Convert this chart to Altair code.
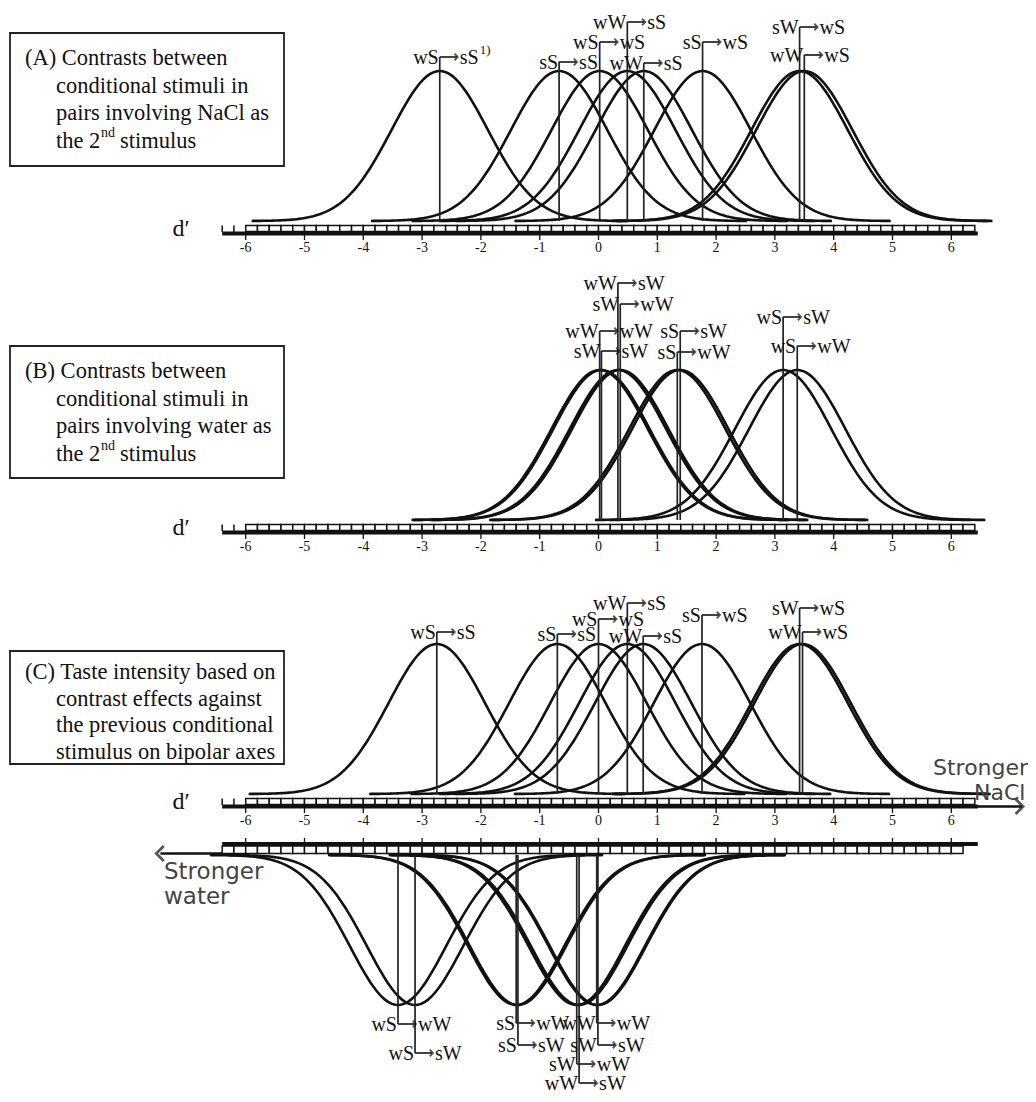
import altair as alt
import numpy as np
import pandas as pd

# ---------------- values (d' means) ----------------
A_PAIRS = ["wS→sS", "sS→sS", "wS→wS", "wW→sS", "wW→sS", "sS→wS", "sW→wS", "wW→wS"]
A_MEANS = [-2.70, -0.67, 0.02, 0.49, 0.77, 1.77, 3.42, 3.50]

B_PAIRS = ["wW→wW", "sW→sW", "wW→sW", "sW→wW", "sS→sW", "sS→wW", "wS→sW", "wS→wW"]
B_MEANS = [0.02, 0.05, 0.33, 0.37, 1.39, 1.34, 3.14, 3.38]

C_UP_PAIRS = ["wS→sS", "sS→sS", "wS→wS", "wW→sS", "wW→sS", "sS→wS", "sW→wS", "wW→wS"]
C_UP_MEANS = [-2.75, -0.70, 0.00, 0.49, 0.76, 1.76, 3.42, 3.47]

C_LOW_PAIRS = ["wS→wW", "wS→sW", "sS→wW", "sS→sW", "sW→wW", "wW→sW", "wW→wW", "sW→sW"]
C_LOW_MEANS = [-3.41, -3.12, -1.40, -1.37, -0.37, -0.33, -0.03, -0.01]

TICKS = [-6, -5, -4, -3, -2, -1, 0, 1, 2, 3, 4, 5, 6]
SIGMA = 0.82      # spread of each curve (d' units)
HALF = 3.2        # each curve drawn over mean +/- HALF

BOX_A = ["(A) Contrasts between", "conditional stimuli in", "pairs involving NaCl as"]
BOX_B = ["(B) Contrasts between", "conditional stimuli in", "pairs involving water as"]
BOX_C = ["(C) Taste intensity based on", "contrast effects against",
         "the previous conditional", "stimulus on bipolar axes"]

# ---------------- layout (page pixels) ----------------
PAGE = 8
W, H = 1020, 1086
X0_PX, UNIT_PX = 598.5, 58.8
XDOM = [(PAGE - X0_PX) / UNIT_PX, (PAGE + W - X0_PX) / UNIT_PX]
YDOM = [PAGE + H, PAGE]

A_BASE, B_BASE, CU_BASE, CL_BASE = 221, 520, 794, 855
AMP = 150
A_LABEL_Y = [57, 62, 42, 22, 63, 42, 27, 55]
B_LABEL_Y = [331, 351, 283, 304, 331, 352, 317, 346]
CU_LABEL_Y = [632, 634, 619, 603, 636, 615, 608, 632]
CL_LABEL_Y = [1024, 1053, 1023, 1045, 1064, 1083, 1023, 1045]

SERIF = "Liberation Serif"
SANS = "DejaVu Sans"
INK = "#111111"
BOX_FS = 22.5
ARROW_LEN = 18    # px from the vertical line to the arrow tip
TEXT_GAP = 20     # px from the vertical line to the second label

xs = alt.Scale(domain=XDOM, nice=False, zero=False)
ys = alt.Scale(domain=YDOM, nice=False, zero=False)
X = alt.X("x:Q", scale=xs, axis=None)
Y = alt.Y("y:Q", scale=ys, axis=None)


def px(v):
    return v - PAGE


def dunit(pixels):
    return pixels / UNIT_PX


layers = []


# ---------- boxes ----------
def box(x1, x2, y1, y2, lines, ys_, sup=None):
    one = pd.DataFrame({"a": [0]})
    out = [alt.Chart(one).mark_rect(fill="white", stroke="#222", strokeWidth=1.8).encode(
        x=alt.value(px(x1)), x2=alt.value(px(x2)), y=alt.value(px(y1)), y2=alt.value(px(y2)))]
    for i, (t, yy) in enumerate(zip(lines, ys_)):
        xx = 25 if i == 0 else 56
        out.append(alt.Chart(one).mark_text(align="left", baseline="middle", font=SERIF,
                                            fontSize=BOX_FS, color=INK).encode(
            x=alt.value(px(xx)), y=alt.value(px(yy)), text=alt.value(t)))
    if sup is not None:
        yy = sup
        out.append(alt.Chart(one).mark_text(align="left", baseline="middle", font=SERIF,
                                            fontSize=BOX_FS, color=INK).encode(
            x=alt.value(px(56)), y=alt.value(px(yy)), text=alt.value("the 2")))
        out.append(alt.Chart(one).mark_text(align="left", baseline="middle", font=SERIF,
                                            fontSize=14, color=INK).encode(
            x=alt.value(px(101)), y=alt.value(px(yy - 8)), text=alt.value("nd")))
        out.append(alt.Chart(one).mark_text(align="left", baseline="middle", font=SERIF,
                                            fontSize=BOX_FS, color=INK).encode(
            x=alt.value(px(120)), y=alt.value(px(yy)), text=alt.value("stimulus")))
    return out


layers += box(10, 284, 33, 166, BOX_A, [58, 85.5, 113], sup=140.5)
layers += box(10, 284, 346, 478, BOX_B, [371, 398.5, 426], sup=453.5)
layers += box(10, 284, 651, 764, BOX_C, [672, 698.5, 725, 751.5])


# ---------- rulers ----------
def ruler_upper(base, arrow=False):
    out = []
    sq = pd.DataFrame({"x": [-6 + 0.2 * k for k in range(62)]})
    sq["x2"] = sq["x"] + 0.2
    sq["y"] = base + 4.5
    sq["y2"] = base + 10.5
    out.append(alt.Chart(sq).mark_rect(fill="white", stroke=INK, strokeWidth=1.5).encode(
        x=X, x2="x2:Q", y=Y, y2="y2:Q"))
    lt = pd.DataFrame({"x": [-6.4, -6.2], "y": [base + 4.5] * 2, "y2": [base + 11] * 2})
    out.append(alt.Chart(lt).mark_rule(color=INK, strokeWidth=1.5).encode(x=X, y=Y, y2="y2:Q"))
    th = pd.DataFrame({"x": [-6.4], "x2": [6.45], "y": [base + 12.5]})
    out.append(alt.Chart(th).mark_rule(color=INK, strokeWidth=4).encode(x=X, x2="x2:Q", y=Y))
    tk = pd.DataFrame({"x": TICKS, "y": [base + 12.5] * len(TICKS), "y2": [base + 19] * len(TICKS)})
    out.append(alt.Chart(tk).mark_rule(color=INK, strokeWidth=1.3).encode(x=X, y=Y, y2="y2:Q"))
    lb = pd.DataFrame({"x": TICKS, "y": [base + 27] * len(TICKS), "t": [str(t) for t in TICKS]})
    out.append(alt.Chart(lb).mark_text(font=SERIF, fontSize=14, baseline="middle",
                                       color=INK).encode(x=X, y=Y, text="t:N"))
    dl = pd.DataFrame({"x": [dunit(181 - X0_PX)], "y": [base + 8], "t": ["d′"]})
    out.append(alt.Chart(dl).mark_text(font=SERIF, fontSize=24, baseline="middle",
                                       color=INK).encode(x=X, y=Y, text="t:N"))
    if arrow:
        sh = pd.DataFrame({"x": [6.4], "x2": [7.2], "y": [base + 12.5]})
        out.append(alt.Chart(sh).mark_rule(color=INK, strokeWidth=2.6).encode(x=X, x2="x2:Q", y=Y))
        ah = pd.DataFrame({"x": [7.22], "y": [base + 12.5]})
        out.append(alt.Chart(ah).mark_point(shape="M-1,-1L0,0L-1,1", filled=False,
                                            stroke=INK, strokeWidth=2.8, size=220).encode(x=X, y=Y))
    return out


def ruler_lower(base):
    out = []
    sq = pd.DataFrame({"x": [-6.4 + 0.2 * k for k in range(63)]})
    sq["x2"] = sq["x"] + 0.2
    sq["y"] = base - 9
    sq["y2"] = base - 1.5
    out.append(alt.Chart(sq).mark_rect(fill="white", stroke=INK, strokeWidth=1.5).encode(
        x=X, x2="x2:Q", y=Y, y2="y2:Q"))
    th = pd.DataFrame({"x": [-6.4], "x2": [6.45], "y": [base - 11]})
    out.append(alt.Chart(th).mark_rule(color=INK, strokeWidth=4).encode(x=X, x2="x2:Q", y=Y))
    tk = pd.DataFrame({"x": TICKS, "y": [base - 11] * len(TICKS), "y2": [base - 17] * len(TICKS)})
    out.append(alt.Chart(tk).mark_rule(color=INK, strokeWidth=1.3).encode(x=X, y=Y, y2="y2:Q"))
    ar = pd.DataFrame({"x": [-7.45], "x2": [-6.4], "y": [base - 1.5]})
    out.append(alt.Chart(ar).mark_rule(color=INK, strokeWidth=2.6).encode(x=X, x2="x2:Q", y=Y))
    ah = pd.DataFrame({"x": [-7.52], "y": [base - 1.5]})
    out.append(alt.Chart(ah).mark_point(shape="M1,-1L0,0L1,1", filled=False,
                                        stroke=INK, strokeWidth=2.8, size=220).encode(x=X, y=Y))
    return out


layers += ruler_upper(A_BASE)
layers += ruler_upper(B_BASE)
layers += ruler_upper(CU_BASE, arrow=True)
layers += ruler_lower(CL_BASE)


# ---------- curves, lines, labels ----------
def panel(pairs, means, label_y, base, sign, name, sup_first=False):
    out = []
    rows = []
    for i, m in enumerate(means):
        for d in np.linspace(m - HALF, m + HALF, 160):
            dens = np.exp(-0.5 * ((d - m) / SIGMA) ** 2)
            rows.append({"id": f"{name}{i}", "x": d, "y": base - sign * AMP * dens})
    cv = pd.DataFrame(rows)
    out.append(alt.Chart(cv).mark_line(color=INK, strokeWidth=2.6).encode(
        x=X, y=Y, detail="id:N", order="x:Q"))
    vl = pd.DataFrame({"x": means, "y": [base] * len(means), "y2": label_y})
    out.append(alt.Chart(vl).mark_rule(color="#222", strokeWidth=1.7).encode(x=X, y=Y, y2="y2:Q"))
    ar = pd.DataFrame({"x": means, "x2": [m + dunit(ARROW_LEN - 1) for m in means], "y": label_y})
    out.append(alt.Chart(ar).mark_rule(color="#222", strokeWidth=1.7).encode(x=X, x2="x2:Q", y=Y))
    ah = pd.DataFrame({"x": [m + dunit(ARROW_LEN) for m in means], "y": label_y})
    out.append(alt.Chart(ah).mark_point(shape="M-1,-1L0,0L-1,1", filled=False, stroke="#111",
                                        strokeWidth=1.8, size=42).encode(x=X, y=Y))
    left = [p.split("→")[0] for p in pairs]
    right = [p.split("→")[1] for p in pairs]
    tl = pd.DataFrame({"x": means, "y": [v + 6.5 for v in label_y], "t": left})
    tr = pd.DataFrame({"x": means, "y": [v + 6.5 for v in label_y], "t": right})
    out.append(alt.Chart(tl).mark_text(align="right", baseline="alphabetic", dx=-1,
                                       font=SERIF, fontSize=20, color=INK).encode(
        x=X, y=Y, text="t:N"))
    out.append(alt.Chart(tr).mark_text(align="left", baseline="alphabetic", dx=TEXT_GAP,
                                       font=SERIF, fontSize=20, color=INK).encode(
        x=X, y=Y, text="t:N"))
    if sup_first:
        sp = pd.DataFrame({"x": [means[0]], "y": [label_y[0] - 3], "t": ["1)"]})
        out.append(alt.Chart(sp).mark_text(align="left", baseline="alphabetic", dx=TEXT_GAP + 20,
                                           font=SERIF, fontSize=13, color=INK).encode(
            x=X, y=Y, text="t:N"))
    return out


layers += panel(A_PAIRS, A_MEANS, A_LABEL_Y, A_BASE, 1, "A", sup_first=True)
layers += panel(B_PAIRS, B_MEANS, B_LABEL_Y, B_BASE, 1, "B")
layers += panel(C_UP_PAIRS, C_UP_MEANS, CU_LABEL_Y, CU_BASE, 1, "CU")
layers += panel(C_LOW_PAIRS, C_LOW_MEANS, CL_LABEL_Y, CL_BASE, -1, "CL")

# ---------- direction captions ----------
one = pd.DataFrame({"a": [0]})
for t, xx, yy, fs in [("Stronger", 933, 768, 22), ("NaCl", 974, 793, 22),
                      ("Stronger", 164, 872, 23), ("water", 164, 897, 23)]:
    layers.append(alt.Chart(one).mark_text(align="left", baseline="middle", font=SANS,
                                           fontSize=fs, color="#444").encode(
        x=alt.value(px(xx)), y=alt.value(px(yy)), text=alt.value(t)))

chart = alt.layer(*layers).properties(
    width=W, height=H, padding=0, autosize=alt.AutoSizeParams(type="none")
).configure_view(stroke=None)

chart.save("out.html", embed_options={"renderer": "svg", "actions": False})
